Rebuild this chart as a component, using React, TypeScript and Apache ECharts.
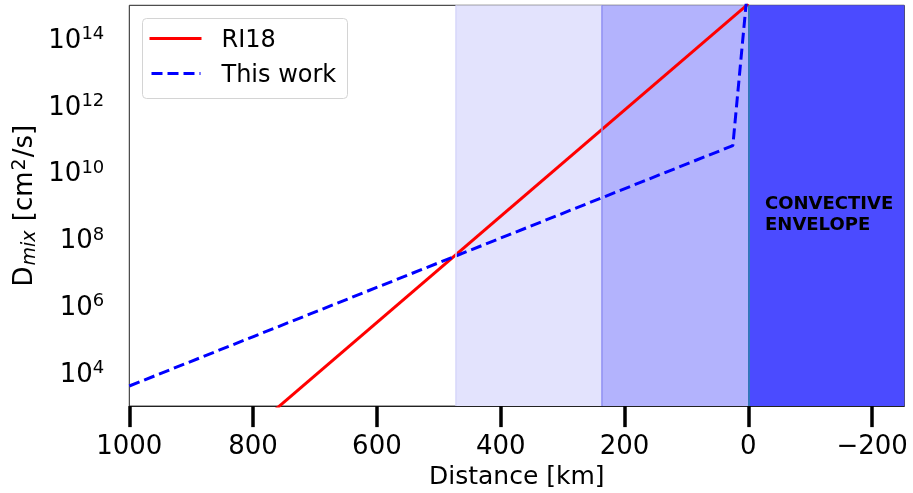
import React, { useEffect, useRef } from "react";
import * as echarts from "echarts";

// Mixing coefficient profiles vs. distance from the convective boundary
const distanceRI18 = [1000, 0];
const dmixRI18 = [0.14, 1.1e15];

const distanceThisWork = [1000, 25, 0];
const dmixThisWork = [4e3, 6.3e10, 5.5e15];

// Shaded zones (km)
const zoneOuter = [472, 236];
const zoneInner = [236, 0];
const zoneEnvelope = [0, -252];

const xTicks = [1000, 800, 600, 400, 200, 0, -200];
const yTicks = [1e4, 1e6, 1e8, 1e10, 1e12, 1e14];

const FONT = "DejaVu Sans";

function zip(xs: number[], ys: number[]) {
  return xs.map((x, i) => [x, ys[i]]);
}

export default function App() {
  const ref = useRef<HTMLDivElement>(null);

  useEffect(() => {
    document.body.style.margin = "0";
    const chart = echarts.init(ref.current!, null, { renderer: "svg" });

    const option: any = {
      animation: false,
      grid: {
        left: 129.3,
        right: 8.7,
        top: 5.3,
        bottom: 86.3,
        show: true,
        borderColor: "#222",
        borderWidth: 1,
        backgroundColor: "transparent",
      },
      xAxis: {
        type: "value",
        inverse: true,
        min: -252,
        max: 1000,
        splitLine: { show: false },
        axisLine: { show: true, lineStyle: { color: "#222", width: 1 } },
        axisTick: {
          show: true,
          length: 21,
          customValues: xTicks,
          lineStyle: { color: "#000", width: 3.5 },
        },
        axisLabel: {
          customValues: xTicks,
          fontSize: 26,
          fontFamily: FONT,
          color: "#000",
          margin: 26,
          formatter: (v: number) => (v < 0 ? "\u2212" + Math.abs(v) : String(v)),
        },
        name: "Distance [km]",
        nameLocation: "middle",
        nameGap: 51,
        nameTextStyle: { fontSize: 25, fontFamily: FONT, color: "#000" },
      },
      yAxis: {
        type: "log",
        logBase: 10,
        min: 1e3,
        max: 1e15,
        splitLine: { show: false },
        axisLine: { show: true, lineStyle: { color: "#222", width: 1 } },
        axisTick: {
          show: true,
          length: 21,
          customValues: yTicks,
          lineStyle: { color: "#000", width: 3.5 },
        },
        axisLabel: {
          customValues: yTicks,
          margin: 25,
          color: "#000",
          fontFamily: FONT,
          fontSize: 26,
          formatter: (v: number) => "10{sup|" + Math.round(Math.log10(v)) + "}",
          rich: {
            sup: {
              fontSize: 18,
              fontFamily: FONT,
              color: "#000",
              verticalAlign: "top",
              padding: [0, 0, 12, 0],
            },
          },
        },
        name: "D{sub|mix} [cm{sup|2}/s]",
        nameLocation: "middle",
        nameRotate: 90,
        nameGap: 90,
        nameTextStyle: {
          fontSize: 26,
          fontFamily: FONT,
          color: "#000",
          rich: {
            sub: {
              fontSize: 19,
              fontStyle: "italic",
              fontFamily: FONT,
              color: "#000",
              verticalAlign: "bottom",
              padding: [10, 1, 0, 1],
            },
            sup: {
              fontSize: 19,
              fontFamily: FONT,
              color: "#000",
              verticalAlign: "top",
              padding: [0, 1, 10, 1],
            },
          },
        },
      },
      series: [
        {
          type: "line",
          name: "zones",
          data: [],
          z: 1,
          silent: true,
          markArea: {
            silent: true,
            data: [
              [
                { xAxis: zoneOuter[0], itemStyle: { color: "#e3e3fd" } },
                { xAxis: zoneOuter[1] },
              ],
              [
                { xAxis: zoneInner[0], itemStyle: { color: "#b3b3fd" } },
                { xAxis: zoneInner[1] },
              ],
              [
                { xAxis: zoneEnvelope[0], itemStyle: { color: "#4b4bff" } },
                { xAxis: zoneEnvelope[1] },
              ],
            ],
          },
          markLine: {
            silent: true,
            symbol: "none",
            label: { show: false },
            data: [
              { xAxis: zoneOuter[0], lineStyle: { color: "#d6d6fa", width: 1.5, type: "solid" } },
              { xAxis: zoneInner[0], lineStyle: { color: "#8c8cf3", width: 1.5, type: "solid" } },
              { xAxis: zoneEnvelope[0], lineStyle: { color: "#2a84b0", width: 1.5, type: "solid" } },
            ],
          },
        },
        {
          type: "line",
          name: "RI18",
          data: zip(distanceRI18, dmixRI18),
          symbol: "none",
          clip: true,
          z: 3,
          lineStyle: { color: "#ff0000", width: 3 },
        },
        {
          type: "line",
          name: "This work",
          data: zip(distanceThisWork, dmixThisWork),
          symbol: "none",
          clip: true,
          z: 4,
          lineStyle: { color: "#0000ff", width: 3, type: [11, 5] },
        },
      ],
    };

    chart.setOption(option);

    const anchor = chart.convertToPixel({ gridIndex: 0 }, [-27, Math.pow(10, 9.4)]) as number[];

    chart.setOption({
      graphic: [
        {
          type: "group",
          left: 142,
          top: 18,
          children: [
            {
              type: "rect",
              shape: { x: 0, y: 0, width: 205, height: 80, r: 4 },
              style: { fill: "rgba(255,255,255,0.85)", stroke: "#d4d4d4", lineWidth: 1 },
            },
            {
              type: "line",
              shape: { x1: 7, y1: 20, x2: 59, y2: 20 },
              style: { stroke: "#ff0000", lineWidth: 3 },
            },
            {
              type: "text",
              x: 79,
              y: 20,
              style: {
                text: "RI18",
                fontSize: 24,
                fontFamily: FONT,
                fill: "#000",
                verticalAlign: "middle",
              },
            },
            {
              type: "line",
              shape: { x1: 9, y1: 55, x2: 58, y2: 55 },
              style: { stroke: "#0000ff", lineWidth: 3, lineDash: [11, 5] },
            },
            {
              type: "text",
              x: 79,
              y: 55,
              style: {
                text: "This work",
                fontSize: 24,
                fontFamily: FONT,
                fill: "#000",
                verticalAlign: "middle",
              },
            },
          ],
        },
        {
          type: "text",
          x: anchor[0],
          y: anchor[1],
          z: 10,
          style: {
            text: "CONVECTIVE\nENVELOPE",
            fontSize: 18,
            fontWeight: "bold",
            fontFamily: FONT,
            fill: "#000",
            lineHeight: 21,
            verticalAlign: "top",
          },
        },
      ],
    });

    return () => chart.dispose();
  }, []);

  return (
    <div
      ref={ref}
      style={{ position: "fixed", left: 0, top: 0, width: 913, height: 493 }}
    />
  );
}
